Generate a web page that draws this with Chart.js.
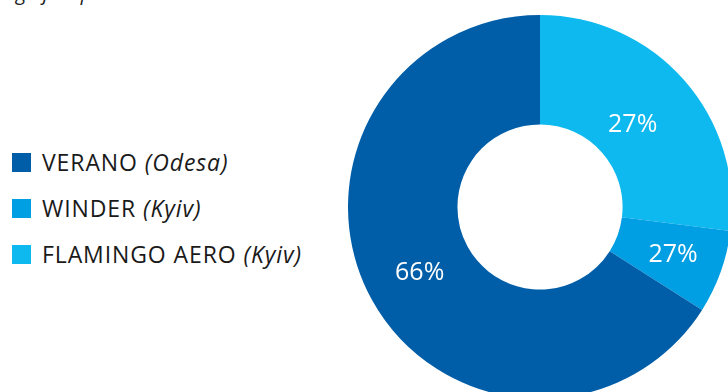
<!DOCTYPE html>
<html>
<head>
<meta charset="utf-8">
<script src="https://cdn.jsdelivr.net/npm/chart.js@4"></script>
<style>
  html, body { margin: 0; padding: 0; background: #fff; }
  body { width: 728px; height: 392px; overflow: hidden; position: relative; font-family: "Open Sans", sans-serif; }
  #titulo { position: absolute; left: -30px; top: -21px; font-size: 20px; font-style: italic; color: #222; white-space: nowrap; }
  #leyenda { position: absolute; left: 12px; top: 139px; }
  .item { display: flex; align-items: center; height: 46px; font-size: 23px; letter-spacing: 0.9px; color: #1a1a1a; }
  .item .caja { width: 19px; height: 19px; margin-right: 11px; }
  .item i { margin-left: 7px; }
  #contenedor { position: absolute; left: 348px; top: 15px; width: 384px; height: 384px; }
</style>
</head>
<body>
<div id="titulo">Rating of all planes</div>
<div id="leyenda"></div>
<div id="contenedor"><canvas id="dona"></canvas></div>
<script>
// Datos del grafico
const aerolineas = ['FLAMINGO AERO', 'WINDER', 'VERANO'];
const ciudades = ['Kyiv', 'Kyiv', 'Odesa'];
const valores = [27, 7, 66];
const etiquetas = ['27%', '27%', '66%'];
const colores = ['#0db9ee', '#009ee2', '#005ea8'];

document.addEventListener("DOMContentLoaded", function() {
    // Leyenda a la izquierda, en orden inverso al de los segmentos
    const leyenda = document.getElementById('leyenda');
    for (let i = aerolineas.length - 1; i >= 0; i--) {
        const fila = document.createElement('div');
        fila.className = 'item';
        fila.innerHTML = '<span class="caja" style="background:' + colores[i] + '"></span>' +
            aerolineas[i] + '<i>(' + ciudades[i] + ')</i>';
        leyenda.appendChild(fila);
    }

    // Ajuste del radio donde va cada texto (relativo al centro del anillo)
    const ajusteRadio = [0.9, 1.03, 1.0];

    // Plugin para escribir el porcentaje dentro de cada segmento
    const textoSegmentos = {
        id: 'textoSegmentos',
        afterDatasetsDraw(chart) {
            const ctx = chart.ctx;
            const meta = chart.getDatasetMeta(0);
            ctx.save();
            ctx.font = '25px "Open Sans", sans-serif';
            ctx.fillStyle = '#ffffff';
            ctx.textAlign = 'center';
            ctx.textBaseline = 'middle';
            meta.data.forEach((arco, i) => {
                const p = arco.getProps(['x', 'y', 'startAngle', 'endAngle', 'innerRadius', 'outerRadius']);
                const ang = (p.startAngle + p.endAngle) / 2;
                const r = (p.innerRadius + p.outerRadius) / 2 * ajusteRadio[i];
                ctx.fillText(etiquetas[i], p.x + Math.cos(ang) * r, p.y + Math.sin(ang) * r);
            });
            ctx.restore();
        }
    };

    new Chart(document.getElementById('dona'), {
        type: 'doughnut',
        data: {
            labels: aerolineas,
            datasets: [{
                data: valores,
                backgroundColor: colores,
                borderWidth: 0
            }]
        },
        options: {
            responsive: true,
            maintainAspectRatio: false,
            animation: false,
            cutout: '43%',
            layout: { padding: 0 },
            plugins: {
                legend: { display: false },
                tooltip: { enabled: false }
            }
        },
        plugins: [textoSegmentos]
    });
});
</script>
</body>
</html>
